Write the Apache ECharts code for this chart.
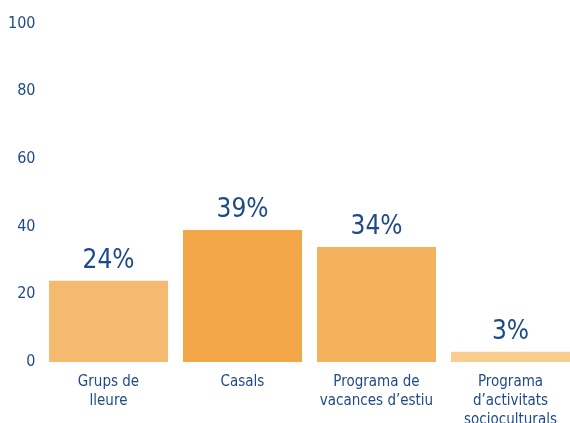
<!DOCTYPE html>
<html>
<head>
<meta charset="utf-8">
<script src="https://cdn.jsdelivr.net/npm/echarts@6/dist/echarts.min.js"></script>
<style>
  html, body { margin: 0; padding: 0; background: #ffffff; }
  #chart { width: 570px; height: 423px; }
</style>
</head>
<body>
<div id="chart"></div>
<script>
// Participation by type of activity (%)
const categories = ['Grups de\nlleure', 'Casals', 'Programa de\nvacances d’estiu', 'Programa\nd’activitats\nsocioculturals'];
const values = [24, 39, 34, 3];
const barColors = ['#F5B96F', '#F4A748', '#F5B25D', '#F8CD8F'];
const yTicks = { min: 0, max: 100, interval: 20 };

const textColor = '#1F4A8A';
const fontFamily = '"Liberation Sans Narrow", "DejaVu Sans Condensed", "Liberation Sans", sans-serif';

const chart = echarts.init(document.getElementById('chart'), null, { renderer: 'canvas' });
chart.setOption({
  animation: false,
  backgroundColor: '#ffffff',
  grid: {
    left: 41.5, right: -7.5, top: 23.5, bottom: 61,
    containLabel: false,
    outerBoundsMode: 'none'
  },
  xAxis: {
    type: 'category',
    data: categories,
    axisLine: { show: false },
    axisTick: { show: false },
    axisLabel: {
      color: textColor,
      fontFamily: fontFamily,
      fontSize: 15,
      lineHeight: 19,
      margin: 11,
      interval: 0
    }
  },
  yAxis: {
    type: 'value',
    min: yTicks.min,
    max: yTicks.max,
    interval: yTicks.interval,
    splitLine: { show: false },
    axisLine: { show: false },
    axisTick: { show: false },
    axisLabel: {
      color: textColor,
      fontFamily: fontFamily,
      fontSize: 16,
      margin: 6
    }
  },
  series: [{
    type: 'bar',
    barWidth: 119,
    data: values.map((v, i) => ({ value: v, itemStyle: { color: barColors[i] } })),
    label: {
      show: true,
      position: 'top',
      distance: 7,
      formatter: '{c}%',
      color: textColor,
      fontFamily: fontFamily,
      fontSize: 26
    }
  }]
});
</script>
</body>
</html>
